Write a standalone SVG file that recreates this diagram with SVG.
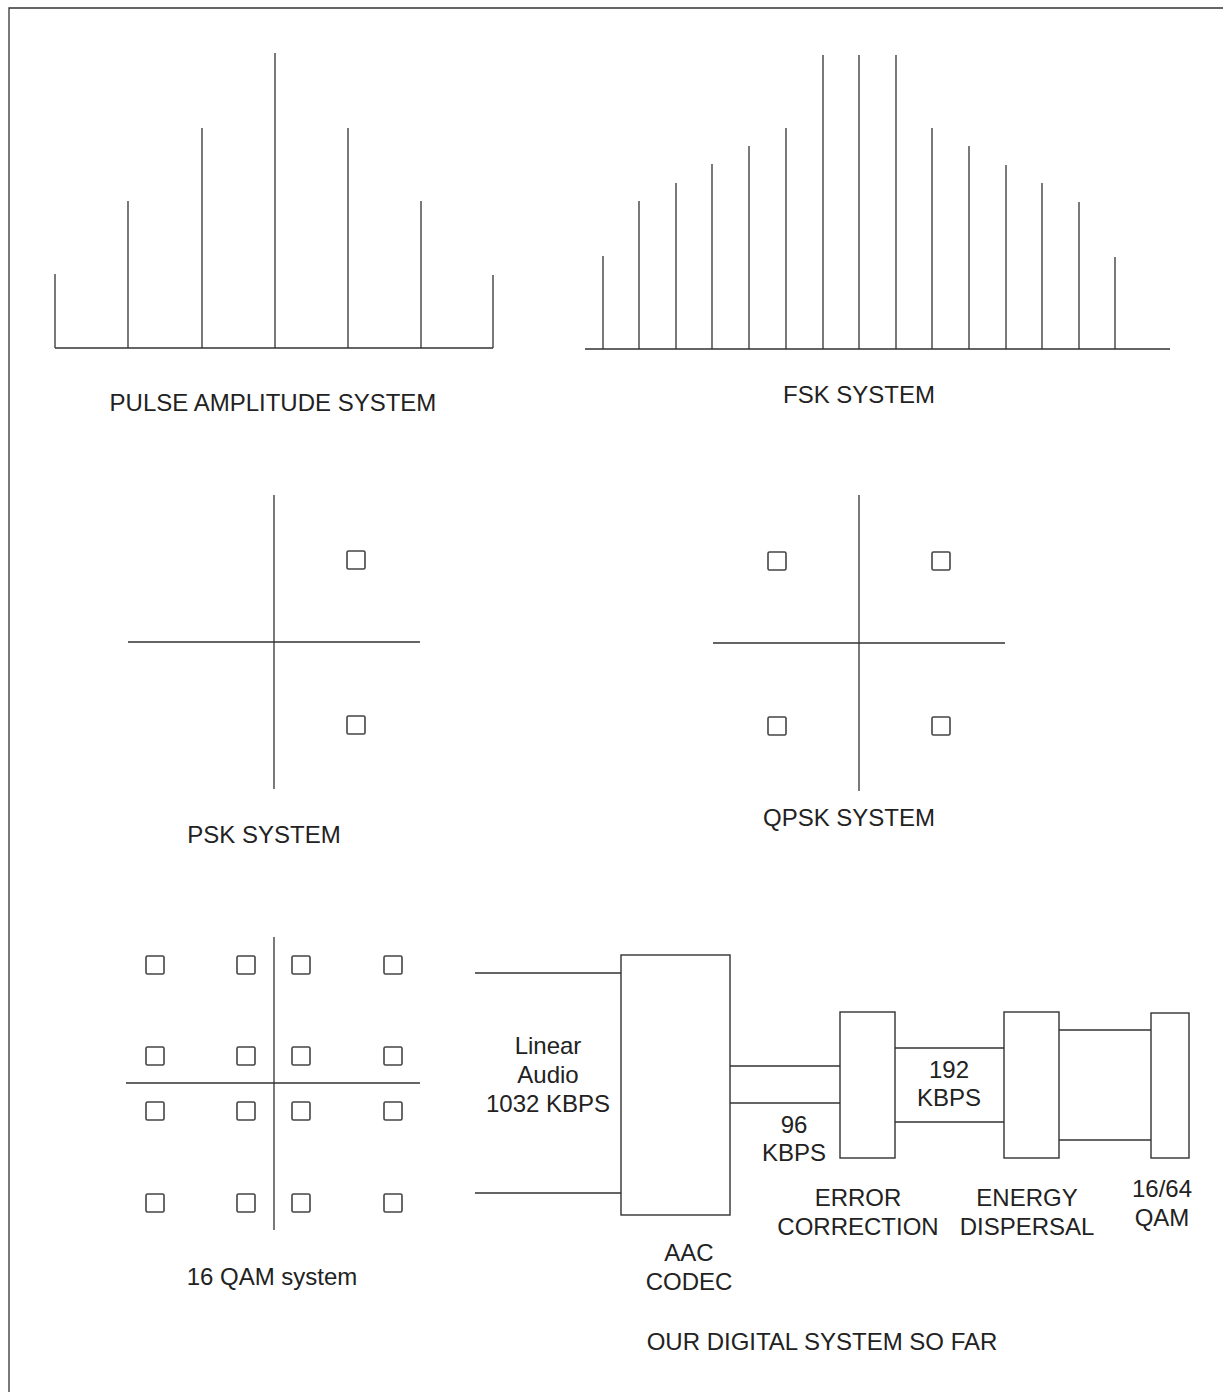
<svg xmlns="http://www.w3.org/2000/svg" width="1223" height="1392" viewBox="0 0 1223 1392">
<style>
.ln{stroke:#333;stroke-width:1.3;fill:none}
.sq{stroke:#444;stroke-width:1.6;fill:none}
.bx{stroke:#333;stroke-width:1.4;fill:#fff}
text{font-family:"Liberation Sans",Arial,sans-serif;font-size:24px;fill:#222;text-anchor:middle}
</style>
<defs>
<rect id="pt" x="-9" y="-9" width="18" height="18" rx="1.5" class="sq"/>
</defs>
<rect width="1223" height="1392" fill="#fff"/>
<path class="ln" d="M9,1392 V8 H1223"/>

<g id="pulse-amplitude">
<path class="ln" d="M55,348 H493 M55,348 V274 M128,348 V201 M202,348 V128 M275,348 V53 M348,348 V128 M421,348 V201 M493,348 V275"/>
<text x="273" y="411">PULSE AMPLITUDE SYSTEM</text>
</g>

<g id="fsk">
<path class="ln" d="M585,349 H1170 M603,349 V256 M639,349 V201 M676,349 V183 M712,349 V164 M749,349 V146 M786,349 V128 M823,349 V55 M859,349 V55 M896,349 V55 M932,349 V128 M969,349 V146 M1006,349 V165 M1042,349 V183 M1079,349 V202 M1115,349 V257"/>
<text x="859" y="403">FSK SYSTEM</text>
</g>

<g id="psk">
<path class="ln" d="M274,495 V789 M128,642 H420"/>
<use href="#pt" x="356" y="560"/>
<use href="#pt" x="356" y="725"/>
<text x="264" y="843">PSK SYSTEM</text>
</g>

<g id="qpsk">
<path class="ln" d="M859,495 V791 M713,643 H1005"/>
<use href="#pt" x="777" y="561"/>
<use href="#pt" x="941" y="561"/>
<use href="#pt" x="777" y="726"/>
<use href="#pt" x="941" y="726"/>
<text x="849" y="826">QPSK SYSTEM</text>
</g>

<g id="qam16">
<path class="ln" d="M274,937 V1230 M126,1083 H420"/>
<use href="#pt" x="155" y="965"/><use href="#pt" x="246" y="965"/><use href="#pt" x="301" y="965"/><use href="#pt" x="393" y="965"/>
<use href="#pt" x="155" y="1056"/><use href="#pt" x="246" y="1056"/><use href="#pt" x="301" y="1056"/><use href="#pt" x="393" y="1056"/>
<use href="#pt" x="155" y="1111"/><use href="#pt" x="246" y="1111"/><use href="#pt" x="301" y="1111"/><use href="#pt" x="393" y="1111"/>
<use href="#pt" x="155" y="1203"/><use href="#pt" x="246" y="1203"/><use href="#pt" x="301" y="1203"/><use href="#pt" x="393" y="1203"/>
<text x="272" y="1285">16 QAM system</text>
</g>

<g id="connectors">
<path class="ln" d="M475,973 H621 M475,1193 H621"/>
<path class="ln" d="M730,1066 H840 M730,1103 H840"/>
<path class="ln" d="M895,1048 H1004 M895,1122 H1004"/>
<path class="ln" d="M1059,1030 H1151 M1059,1140 H1151"/>
</g>

<g id="input-label">
<text x="548" y="1054">Linear</text>
<text x="548" y="1083">Audio</text>
<text x="548" y="1112">1032 KBPS</text>
</g>

<g id="aac-codec">
<rect class="bx" x="621" y="955" width="109" height="260"/>
<text x="689" y="1261">AAC</text>
<text x="689" y="1290">CODEC</text>
</g>

<g id="rate-96">
<text x="794" y="1133">96</text>
<text x="794" y="1161">KBPS</text>
</g>

<g id="error-correction">
<rect class="bx" x="840" y="1012" width="55" height="146"/>
<text x="858" y="1206">ERROR</text>
<text x="858" y="1235">CORRECTION</text>
</g>

<g id="rate-192">
<text x="949" y="1078">192</text>
<text x="949" y="1106">KBPS</text>
</g>

<g id="energy-dispersal">
<rect class="bx" x="1004" y="1012" width="55" height="146"/>
<text x="1027" y="1206">ENERGY</text>
<text x="1027" y="1235">DISPERSAL</text>
</g>

<g id="qam-out">
<rect class="bx" x="1151" y="1013" width="38" height="145"/>
<text x="1162" y="1197">16/64</text>
<text x="1162" y="1226">QAM</text>
</g>

<g id="caption">
<text x="822" y="1350">OUR DIGITAL SYSTEM SO FAR</text>
</g>
</svg>
